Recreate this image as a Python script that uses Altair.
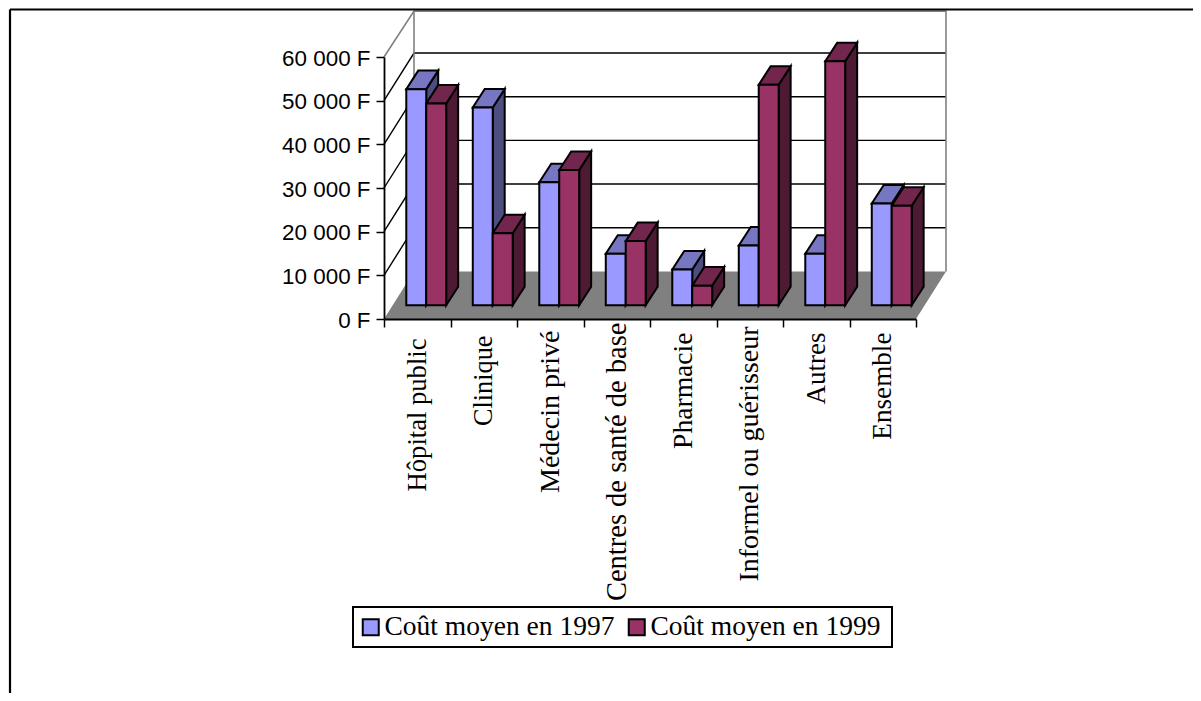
import json
import altair as alt
import pandas as pd

categories = ["Hôpital public", "Clinique", "Médecin privé", "Centres de santé de base",
              "Pharmacie", "Informel ou guérisseur", "Autres", "Ensemble"]
cost_1997 = [49500, 45300, 28200, 11800, 8200, 13700, 11800, 23300]
cost_1999 = [46200, 16500, 31000, 14700, 4500, 50500, 55900, 22800]
series_names = ["Coût moyen en 1997", "Coût moyen en 1999"]
front_colors = ["#9999FF", "#993366"]
top_colors = ["#7676C2", "#73264D"]
side_colors = ["#4D4D80", "#4D1A33"]
y_ticks = [0, 10000, 20000, 30000, 40000, 50000, 60000]

# projection of the depth axis, in data units
WALL_DX, WALL_DY = 0.451, 10900     # full floor depth
TOP_GAP = 400                       # back edge of the top of the wall
BASE_DX, BASE_DY = 0.135, 3140      # where the bars stand on the floor
BAR_DX, BAR_DY = 0.18, 4240         # depth of one bar
BAR_W = 0.30

X = alt.Scale(domain=[0, 8], nice=False, zero=False)
Y = alt.Scale(domain=[0, 60000], nice=False, zero=False)

paddings = {1: 8, 2: 3, 3: -5, 4: 5, 5: -1, 6: 5, 7: 5}
font_sizes = {0: 26.6, 1: 26.3, 3: 28.5, 4: 27.6, 6: 27, 7: 27.2}
x_axis = alt.Axis(
    values=list(range(9)), title=None, grid=False, zindex=1,
    labelExpr=f"({json.dumps(categories, ensure_ascii=False)})[datum.value] || ''",
    labelAngle=270, labelAlign="right", labelBaseline="middle", labelOffset=33,
    labelFont="Liberation Serif", labelColor="black", labelLimit=500,
    labelFontSize={"condition": [{"test": f"datum.value === {k}", "value": v} for k, v in font_sizes.items()], "value": 28},
    labelOverlap=False, labelBound=False, labelFlush=False,
    labelPadding={"condition": [{"test": f"datum.value === {k}", "value": v} for k, v in paddings.items()], "value": 11},
    tickSize=8, tickColor="black", tickWidth=1.5, domainColor="black", domainWidth=1.8,
)
y_axis = alt.Axis(
    values=y_ticks, title=None, grid=False, zindex=1,
    labelExpr="replace(format(datum.value, ','), ',', ' ') + ' F'",
    labelFont="Liberation Sans", labelFontSize=22.4, labelColor="black", labelPadding=6,
    labelOverlap=False, labelBound=False, labelOffset=1,
    tickSize=8, tickColor="black", tickWidth=1.5, domainColor="black", domainWidth=1.8,
)


def area(rows, fill, stroke=None, width=2):
    kw = {"fill": fill, "strokeWidth": width, "interpolate": "linear"}
    if stroke:
        kw["stroke"] = stroke
    return alt.Chart(pd.DataFrame(rows)).mark_area(**kw).encode(
        x=alt.X("x:Q", scale=X, axis=x_axis),
        y=alt.Y("y:Q", scale=Y, axis=y_axis, stack=None),
        y2="y2:Q",
        detail="id:N",
    )


def lines(rows, color, width):
    return alt.Chart(pd.DataFrame(rows)).mark_line(color=color, strokeWidth=width).encode(
        x=alt.X("x:Q", scale=X, axis=x_axis),
        y=alt.Y("y:Q", scale=Y, axis=y_axis),
        detail="id:N",
    )


layers = []
# floor
layers.append(area([
    {"id": 0, "x": 0, "y": 0, "y2": 0},
    {"id": 0, "x": WALL_DX, "y": 0, "y2": WALL_DY},
    {"id": 0, "x": 8, "y": 0, "y2": WALL_DY},
    {"id": 0, "x": 8 + WALL_DX, "y": WALL_DY, "y2": WALL_DY},
], "#808080"))

# walls: grid lines on the back wall and their diagonals on the side wall
grid_rows, top_rows = [], []
for t in y_ticks[1:-1]:
    grid_rows += [{"id": t, "x": 0, "y": t}, {"id": t, "x": WALL_DX, "y": t + WALL_DY},
                  {"id": t, "x": 8 + WALL_DX, "y": t + WALL_DY}]
layers.append(lines(grid_rows, "black", 1.4))
m = y_ticks[-1]
back_top = m + WALL_DY - TOP_GAP
top_rows += [{"id": "a", "x": 0, "y": m}, {"id": "a", "x": WALL_DX, "y": back_top},
             {"id": "a", "x": 8 + WALL_DX, "y": back_top}, {"id": "a", "x": 8 + WALL_DX, "y": WALL_DY}]
top_rows += [{"id": "b", "x": WALL_DX, "y": back_top}, {"id": "b", "x": WALL_DX, "y": WALL_DY}]
layers.append(lines(top_rows, "#808080", 1.6))


def bar_left(i, s):
    return i + 0.5 + BASE_DX - BAR_W + s * BAR_W


def top_rows_for(s, values):
    rows = []
    for i, v in enumerate(values):
        xl, xr, vv = bar_left(i, s), bar_left(i, s) + BAR_W, v + BASE_DY
        rows += [{"id": i, "x": xl, "y": vv, "y2": vv},
                 {"id": i, "x": xl + BAR_DX, "y": vv, "y2": vv + BAR_DY},
                 {"id": i, "x": xr, "y": vv, "y2": vv + BAR_DY},
                 {"id": i, "x": xr + BAR_DX, "y": vv + BAR_DY, "y2": vv + BAR_DY}]
    return rows


def side_rows_for(s, values):
    rows = []
    for i, v in enumerate(values):
        xr, vv = bar_left(i, s) + BAR_W, v + BASE_DY
        rows += [{"id": i, "x": xr, "y": BASE_DY, "y2": vv},
                 {"id": i, "x": xr + BAR_DX, "y": BASE_DY + BAR_DY, "y2": vv + BAR_DY}]
    return rows


for s, values in enumerate([cost_1997, cost_1999]):
    layers.append(area(side_rows_for(s, values), side_colors[s], "black"))
    layers.append(area(top_rows_for(s, values), top_colors[s], "black"))

front_rows = []
for s, values in enumerate([cost_1997, cost_1999]):
    for i, v in enumerate(values):
        front_rows.append({"series": series_names[s], "x": bar_left(i, s), "x2": bar_left(i, s) + BAR_W,
                           "y": BASE_DY, "y2": v + BASE_DY})
fronts = alt.Chart(pd.DataFrame(front_rows)).mark_rect(stroke="black", strokeWidth=2).encode(
    x=alt.X("x:Q", scale=X, axis=x_axis),
    x2="x2:Q",
    y=alt.Y("y:Q", scale=Y, axis=y_axis),
    y2="y2:Q",
    fill=alt.Fill("series:N", scale=alt.Scale(domain=series_names, range=front_colors), legend=alt.Legend(
        title=None, orient="none", legendX=-35, legendY=550, direction="horizontal", columns=2,
        symbolType="square", symbolSize=256, symbolStrokeColor="black", symbolStrokeWidth=2, symbolOffset=2,
        labelFont="Liberation Serif", labelFontSize=27.5, labelColor="black", labelLimit=400,
        columnPadding=6, labelOffset=0, padding=6,
    )),
)
layers.append(fronts)

# outer frame of the page and box round the legend
one = pd.DataFrame({"k": [0]})
frame = alt.Chart(one).mark_rule(color="black", strokeWidth=2.2)
layers.append(frame.encode(x=alt.value(-374), y=alt.value(-47.5), y2=alt.value(644)))
layers.append(frame.encode(x=alt.value(-374), x2=alt.value(809), y=alt.value(-47.5)))
layers.append(alt.Chart(one).mark_rect(fillOpacity=0, stroke="black", strokeWidth=2).encode(
    x=alt.value(-31), x2=alt.value(508), y=alt.value(550), y2=alt.value(590)))

chart = alt.layer(*layers).properties(
    width=532, height=262, background="white",
    padding={"left": 376, "top": 49, "right": 277, "bottom": 374},
    autosize=alt.AutoSizeParams(type="none"),
).configure_view(stroke=None)

chart.save("out.html", embed_options={"renderer": "svg", "actions": False})
